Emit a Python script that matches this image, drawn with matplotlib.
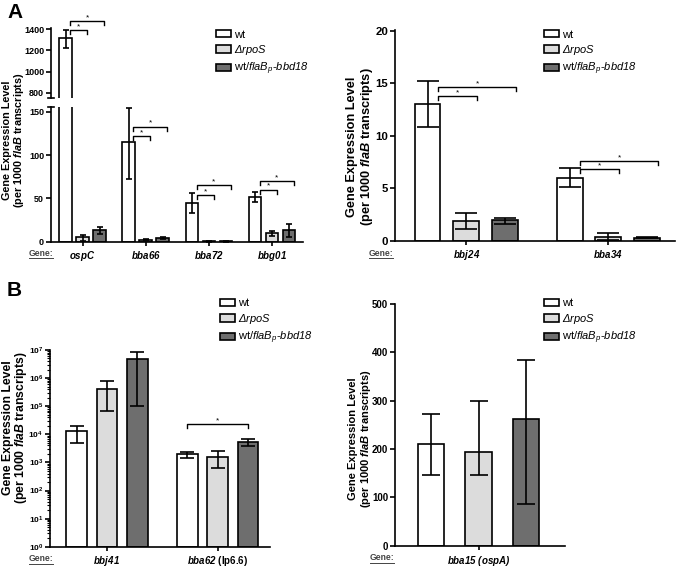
import matplotlib
matplotlib.use("Agg")
import matplotlib.pyplot as plt
import numpy as np
from matplotlib.patches import Patch
from matplotlib.lines import Line2D
from matplotlib.ticker import FixedLocator, FuncFormatter, LogLocator, NullFormatter

plt.rcParams.update({
    "font.family": ["Liberation Sans", "DejaVu Sans"],
    "font.weight": "bold",
    "mathtext.fontset": "custom",
    "mathtext.rm": "Liberation Sans:normal",
    "mathtext.it": "Liberation Sans:italic:normal",
    "mathtext.sf": "Liberation Sans:italic:normal",
    "mathtext.bf": "Liberation Sans:bold",
    "mathtext.bfit": "Liberation Sans:bold:italic",
    "axes.linewidth": 1.2,
})

# ---------------- data ----------------
series_names = ["wt", r"$\mathsf{\Delta rpoS}$", r"wt/$\mathsf{flaB}_{\mathsf{p}}$-$\mathsf{bbd18}$"]

# Panel A (left)
genes_a1 = [r"$\mathbfit{ospC}$", r"$\mathbfit{bba66}$", r"$\mathbfit{bba72}$", r"$\mathbfit{bbg01}$"]
wt_a1 = [1320, 115, 45, 52]
wt_a1_lo = [95, 42, 12, 6]
wt_a1_hi = [75, 40, 11, 6]
rpos_a1 = [5, 2.5, 0.3, 9.5]
rpos_a1_lo = [4, 1, 0.2, 2.5]
rpos_a1_hi = [3, 1, 0.2, 2.5]
bbd_a1 = [13.5, 4.5, 0.3, 13.5]
bbd_a1_lo = [5, 1, 0.2, 7.5]
bbd_a1_hi = [4, 1, 0.2, 6.5]

# Panel A (right)
genes_a2 = [r"$\mathbfit{bbj24}$", r"$\mathbfit{bba34}$"]
wt_a2 = [13.0, 6.0]
wt_a2_lo = [2.2, 0.9]
wt_a2_hi = [2.2, 0.9]
rpos_a2 = [1.9, 0.42]
rpos_a2_lo = [0.78, 0.3]
rpos_a2_hi = [0.78, 0.3]
bbd_a2 = [1.95, 0.3]
bbd_a2_lo = [0.3, 0.05]
bbd_a2_hi = [0.25, 0.05]

# Panel B (left, log scale)
genes_b1 = [r"$\mathbfit{bbj41}$", r"$\mathbfit{bba62}$ (lp6.6)"]
wt_b1 = [1.3e4, 1.95e3]
wt_b1_lo = [8.2e3, 5.0e2]
wt_b1_hi = [7.5e3, 4.0e2]
rpos_b1 = [4.2e5, 1.6e3]
rpos_b1_lo = [3.5e5, 9.5e2]
rpos_b1_hi = [3.4e5, 8.5e2]
bbd_b1 = [4.6e6, 5.4e3]
bbd_b1_lo = [4.5e6, 1.7e3]
bbd_b1_hi = [4.2e6, 1.3e3]

# Panel B (right)
genes_b2 = [r"$\mathbfit{bba15\ (ospA)}$"]
wt_b2 = [210]
wt_b2_lo = [64]
wt_b2_hi = [63]
rpos_b2 = [193]
rpos_b2_lo = [47]
rpos_b2_hi = [107]
bbd_b2 = [263]
bbd_b2_lo = [177]
bbd_b2_hi = [122]

# ---------------- figure ----------------
W, H = 684, 568
fig = plt.figure(figsize=(W / 100, H / 100), dpi=100)
COLORS = ["white", "#dcdcdc", "#6e6e6e"]


def add_ax(x0, y0, x1, y1):
    return fig.add_axes([x0 / W, 1 - y1 / H, (x1 - x0) / W, (y1 - y0) / H])


def fx(x):
    return x / W


def fy(y):
    return 1 - y / H


def draw_bars(ax, spacing, width, vals, lo, hi, capsize, bottom=0):
    n = len(vals[0])
    centers = np.arange(n) * spacing
    for k in range(3):
        xs = centers + (k - 1)
        v = np.asarray(vals[k], dtype=float)
        ax.bar(xs, v - bottom, width, bottom=bottom, color=COLORS[k],
               edgecolor="black", linewidth=1.2, zorder=2)
        ax.errorbar(xs, v, yerr=[lo[k], hi[k]], fmt="none", ecolor="black",
                    elinewidth=1.2, capsize=capsize, capthick=1.2, zorder=3)
    return centers


def style(ax, fs_tick, xaxis=True):
    ax.spines["top"].set_visible(False)
    ax.spines["right"].set_visible(False)
    ax.tick_params(axis="y", direction="out", length=3.5, width=1.2,
                   labelsize=fs_tick, pad=1.5)
    if xaxis:
        ax.tick_params(axis="x", direction="out", length=3, width=1.2,
                       labelsize=7, pad=2)


def bracket(ax, x1, x2, y, ydrop, fs=6):
    ax.plot([x1, x1, x2, x2], [ydrop, y, y, ydrop], color="black", lw=1.0,
            clip_on=False, zorder=4)
    ax.text((x1 + x2) / 2, y, "*", ha="center", va="bottom", fontsize=fs,
            fontweight="normal", clip_on=False)


def ylabel(xc1, xc2, yc, fs):
    fig.text(fx(xc1), fy(yc), "Gene Expression Level", rotation=90,
             ha="center", va="center", fontsize=fs, fontweight="bold")
    fig.text(fx(xc2), fy(yc), r"(per 1000 $\mathbfit{flaB}$ transcripts)",
             rotation=90, ha="center", va="center", fontsize=fs,
             fontweight="bold")


def gene_word(x, y):
    fig.text(fx(x), fy(y), "Gene:", ha="left", va="center", fontsize=6.2,
             fontweight="bold", color="#444444")
    fig.add_artist(Line2D([fx(x), fx(x + 24)], [fy(y + 5), fy(y + 5)],
                          lw=0.7, color="#444444"))


def legend(x, y):
    handles = [Patch(facecolor=c, edgecolor="black", linewidth=1.2) for c in COLORS]
    fig.legend(handles, series_names, loc="upper left",
               bbox_to_anchor=(fx(x), fy(y)), frameon=False,
               prop={"weight": "normal", "size": 8}, handlelength=1.35,
               handleheight=0.65, handletextpad=0.3, labelspacing=0.32,
               borderpad=0, borderaxespad=0)


# ----- Panel A left (broken axis) -----
sp_a1 = 3.716
xlim_a1 = (-1.853, 12.97)
ax_lo = add_ax(51, 106.7, 303, 241.7)
ax_hi = add_ax(51, 28, 303, 97.7)
vals = [wt_a1, rpos_a1, bbd_a1]
los = [wt_a1_lo, rpos_a1_lo, bbd_a1_lo]
his = [wt_a1_hi, rpos_a1_hi, bbd_a1_hi]
for a in (ax_lo, ax_hi):
    c_a1 = draw_bars(a, sp_a1, 0.735, vals, los, his, 2.5)
    a.set_xlim(*xlim_a1)
ax_lo.set_ylim(0, 156)
ax_hi.set_ylim(752, 1413)
ax_lo.yaxis.set_major_locator(FixedLocator([0, 50, 100, 150]))
ax_hi.yaxis.set_major_locator(FixedLocator([800, 1000, 1200, 1400]))
style(ax_lo, 6.5)
style(ax_hi, 6.5, xaxis=False)
ax_hi.spines["bottom"].set_visible(False)
ax_hi.tick_params(axis="x", bottom=False, labelbottom=False)
ax_lo.set_xticks(c_a1)
ax_lo.set_xticklabels(genes_a1)
for yy in (97.7, 106.7):
    fig.add_artist(Line2D([fx(47.5), fx(54)], [fy(yy), fy(yy)], lw=1.2, color="black"))
off = 0.28
bracket(ax_hi, c_a1[0] - 1 + off, c_a1[0] + off, 1390, 1358)
bracket(ax_hi, c_a1[0] - 1 + off, c_a1[0] + 1 + off, 1477, 1445)
for g, (ylow, yhigh) in zip([1, 2, 3], [(122, 133), (54, 65.5), (60, 70)]):
    bracket(ax_lo, c_a1[g] - 1 + off, c_a1[g] + off, ylow, ylow - 4.6)
    bracket(ax_lo, c_a1[g] - 1 + off, c_a1[g] + 1 + off, yhigh, yhigh - 4.6)
ylabel(7.5, 19.5, 140, 7.8)
gene_word(29, 253)
legend(216, 29.5)

# ----- Panel A right -----
ax = add_ax(395, 29.6, 675, 241)
c_a2 = draw_bars(ax, 3.67, 0.67, [wt_a2, rpos_a2, bbd_a2],
                 [wt_a2_lo, rpos_a2_lo, bbd_a2_lo], [wt_a2_hi, rpos_a2_hi, bbd_a2_hi], 8)
ax.set_xlim(-1.84, 5.395)
ax.set_ylim(0, 20.1)
ax.yaxis.set_major_locator(FixedLocator([0, 5, 10, 15, 20]))
style(ax, 8.2)
ax.set_xticks(c_a2)
ax.set_xticklabels(genes_a2)
for g, (ylow, yhigh) in zip([0, 1], [(13.75, 14.6), (6.8, 7.6)]):
    bracket(ax, c_a2[g] - 1 + off, c_a2[g] + off, ylow, ylow - 0.38)
    bracket(ax, c_a2[g] - 1 + off, c_a2[g] + 1 + off, yhigh, yhigh - 0.38)
ylabel(352.5, 367, 147, 9.2)
gene_word(369, 253)
legend(544, 29.5)

# ----- Panel B left (log) -----
ax = add_ax(50, 350, 270, 546.7)
ax.set_yscale("log")
c_b1 = draw_bars(ax, 3.653, 0.69, [wt_b1, rpos_b1, bbd_b1],
                 [wt_b1_lo, rpos_b1_lo, bbd_b1_lo], [wt_b1_hi, rpos_b1_hi, bbd_b1_hi],
                 4.7, bottom=1)
ax.set_xlim(-1.88, 5.38)
ax.set_ylim(1, 1e7)
ax.yaxis.set_major_locator(FixedLocator([10.0 ** k for k in range(8)]))
ax.yaxis.set_major_formatter(FuncFormatter(lambda v, p: r"$\mathbf{10^{%d}}$" % round(np.log10(v))))
ax.yaxis.set_minor_locator(LogLocator(base=10, subs=np.arange(2, 10), numticks=20))
ax.yaxis.set_minor_formatter(NullFormatter())
style(ax, 6.0)
ax.tick_params(axis="y", which="minor", length=2, width=0.8)
ax.set_xticks(c_b1)
ax.set_xticklabels(genes_b1)
bracket(ax, c_b1[1] - 1, c_b1[1] + 1, 2.3e4, 1.67e4)
ylabel(8.5, 21.5, 428, 8.8)
gene_word(29, 558.5)
legend(219.5, 298.5)

# ----- Panel B right -----
ax = add_ax(395, 304, 565, 545.7)
c_b2 = draw_bars(ax, 3.6, 0.56, [wt_b2, rpos_b2, bbd_b2],
                 [wt_b2_lo, rpos_b2_lo, bbd_b2_lo], [wt_b2_hi, rpos_b2_hi, bbd_b2_hi], 6.8)
ax.set_xlim(-1.767, 1.83)
ax.set_ylim(0, 500)
ax.yaxis.set_major_locator(FixedLocator([0, 100, 200, 300, 400, 500]))
style(ax, 7.0)
ax.set_xticks(c_b2)
ax.set_xticklabels(genes_b2)
ax.tick_params(axis="x", pad=3)
ylabel(352.5, 366, 438.5, 8)
gene_word(370, 557.5)
legend(544, 298.5)

# panel letters
fig.text(fx(7), fy(13), "A", fontsize=15, fontweight="bold", va="center", ha="left")
fig.text(fx(7), fy(290), "B", fontsize=15, fontweight="bold", va="center", ha="left")

fig.savefig("out.png", dpi=100)
